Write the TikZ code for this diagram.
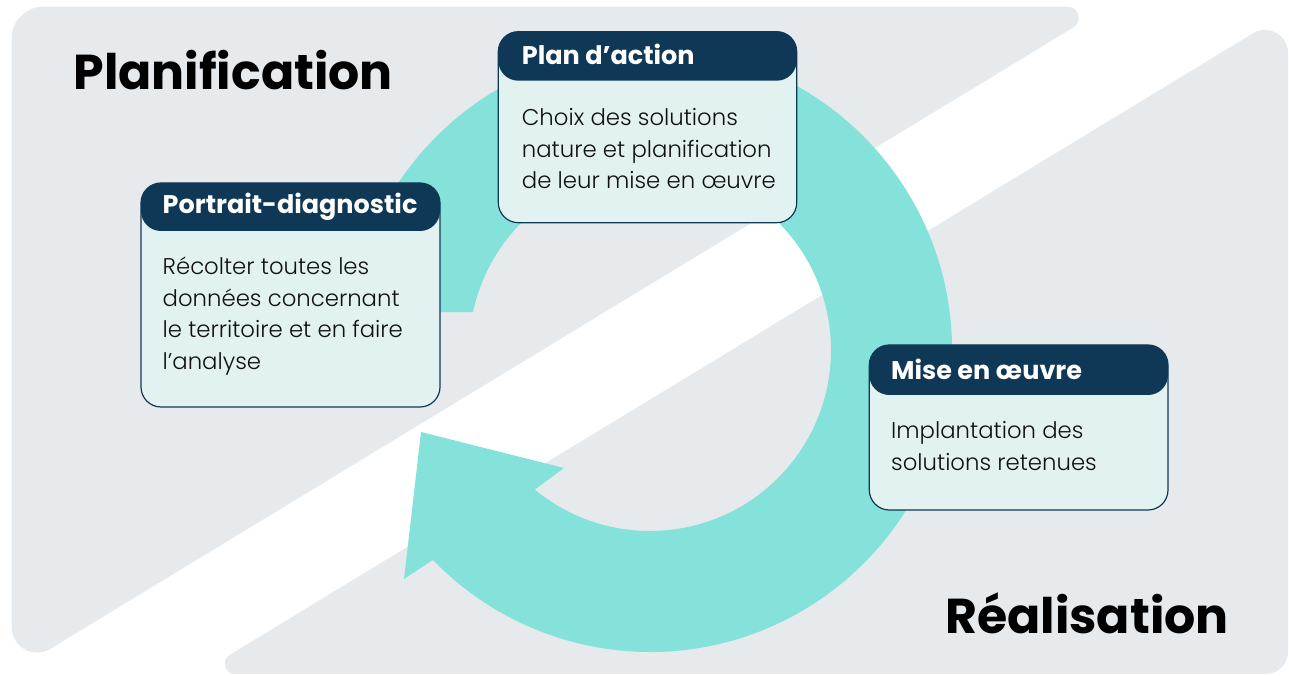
\documentclass[tikz,border=0pt]{standalone}
\usepackage{fontspec}
\setmainfont{Poppins}
\newfontfamily\lightfont{Poppins Light}
\usetikzlibrary{calc}
\definecolor{bggrey}{HTML}{E7EAED}
\definecolor{ringteal}{HTML}{84E2DA}
\definecolor{navy}{HTML}{0F3756}
\definecolor{bodyfill}{HTML}{E2F2F1}
\definecolor{ink}{HTML}{111111}
\tikzset{
  bgshape/.style={fill=bggrey},
  ringshape/.style={fill=ringteal},
  cardbody/.style={fill=bodyfill, draw=navy, line width=1.2pt, rounded corners=20pt},
  cardhead/.style={fill=navy, rounded corners=20pt},
  headtext/.style={anchor=base west, inner sep=0pt, text=white, font=\fontsize{25.5}{30}\selectfont\bfseries},
  bodytext/.style={anchor=base west, inner sep=0pt, text=ink, align=left, font=\lightfont\fontsize{22.8}{31.6}\selectfont},
  bigtitle/.style={anchor=base west, inner sep=0pt, text=black, font=\fontsize{49}{56}\selectfont\bfseries}
}
\begin{document}
\begin{tikzpicture}[x=1pt,y=1pt]
\useasboundingbox (0,0) rectangle (1289,676);
% background shapes
\path[bgshape] (41.7,669.3) -- (1067.5,669.3) .. controls (1078.8,669.3) and (1083,654.4) .. (1073.3,648.5)
  -- (50.2,27.1) .. controls (33.3,16.9) and (11.7,29) .. (11.7,48.7) -- (11.7,639.3)
  .. controls (11.7,655.9) and (28.3,669.3) .. (41.7,669.3) -- cycle;
\path[bgshape] (1288,623) -- (1288,24) .. controls (1288,11.9) and (1278.1,2) .. (1266,2) -- (235.2,2)
  .. controls (224.7,2) and (220.9,15.8) .. (229.8,21.2) -- (1253,642.7)
  .. controls (1268.3,652) and (1288,641) .. (1288,623) -- cycle;
% ring arrow
\coordinate (c) at (650,326);
\path[ringshape] ([shift={(c)}]172.8:302) arc[start angle=172.8, end angle=-135.95, radius=302]
  -- (404,97) -- (421,244) -- (564,208) -- ([shift={(c)}]-129.56:181)
  arc[start angle=-129.56, end angle=167.95, radius=181] -- cycle;
% titles
\node[bigtitle] (planif) at (73.3,586) {Planification};
\node[bigtitle] (realis) at (945,42.7) {Réalisation};
% card: Plan d'action
\path[cardbody] (498.3,644.3) rectangle (796.7,453.3);
\path[cardhead] (498.3,644.3) rectangle (796.7,595.3);
\node[headtext] (planhead) at (521.7,611) {Plan d’action};
\node[bodytext] (plantext) at (521.7,487.2) {Choix des solutions\\nature et planification\\de leur mise en œuvre};
% card: Portrait-diagnostic
\path[cardbody] (141,493) rectangle (440,269);
\path[cardhead] (141,493) rectangle (440,445);
\node[headtext] (porthead) at (162.5,462) {Portrait-diagnostic};
\node[bodytext] (porttext) at (162.5,306.6) {Récolter toutes les\\données concernant\\le territoire et en faire\\l’analyse};
% card: Mise en oeuvre
\path[cardbody] (869.3,331) rectangle (1168,166);
\path[cardhead] (869.3,331) rectangle (1168,281);
\node[headtext] (misehead) at (891,296.7) {Mise en œuvre};
\node[bodytext] (misetext) at (891,205.8) {Implantation des\\solutions retenues};
\end{tikzpicture}
\end{document}
